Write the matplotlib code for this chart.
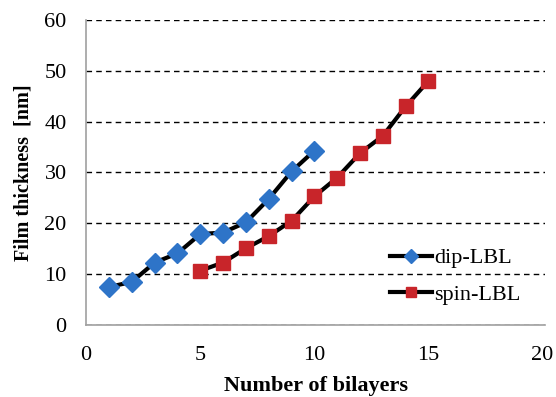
import matplotlib.pyplot as plt

# film thickness vs number of bilayers
dip_n = [1, 2, 3, 4, 5, 6, 7, 8, 9, 10]
dip_t = [7.5, 8.5, 12.3, 14.1, 17.9, 18.2, 20.2, 24.8, 30.2, 34.3]
spin_n = [5, 6, 7, 8, 9, 10, 11, 12, 13, 14, 15]
spin_t = [10.7, 12.3, 15.1, 17.5, 20.5, 25.3, 29.0, 33.8, 37.2, 43.0, 48.0]

plt.rcParams['font.family'] = ['Liberation Serif', 'DejaVu Serif']

fig = plt.figure(figsize=(5.56, 3.97), dpi=100)
ax = fig.add_axes([0.155, 0.181, 0.825, 0.769])

ax.plot(dip_n, dip_t, '-', color='black', lw=3, marker='D', ms=10,
        mfc='#2E74C8', mec='#2E74C8', label='dip-LBL', zorder=3)
ax.plot(spin_n, spin_t, '-', color='black', lw=3, marker='s', ms=9.5,
        mfc='#C8252A', mec='#C8252A', label='spin-LBL', zorder=3)

ax.set_xlim(0, 20.1)
ax.set_ylim(0, 60)
ax.set_xticks([0, 5, 10, 15, 20])
ax.set_yticks(range(0, 61, 10))
ax.yaxis.grid(True, color='black', ls=(0, (4, 3)), lw=1)
ax.set_axisbelow(True)
for s in ['top', 'right']:
    ax.spines[s].set_visible(False)
for s in ['left', 'bottom']:
    ax.spines[s].set_color('#A0A0A0')
    ax.spines[s].set_linewidth(1.2)
ax.tick_params(length=0, labelsize=16)
ax.tick_params(axis='y', pad=14)
ax.tick_params(axis='x', pad=15)

ax.set_xlabel('Number of bilayers', fontsize=16, fontweight='bold', labelpad=8)
ax.set_ylabel('Film thickness  [nm]', fontsize=14.5, fontweight='bold', labelpad=8)

ax.legend(loc='lower right', bbox_to_anchor=(0.99, 0.0), frameon=False,
          fontsize=16, markerscale=0.7, handlelength=1.9, handletextpad=0.1,
          labelspacing=0.73)

fig.savefig('out.png', dpi=100)
